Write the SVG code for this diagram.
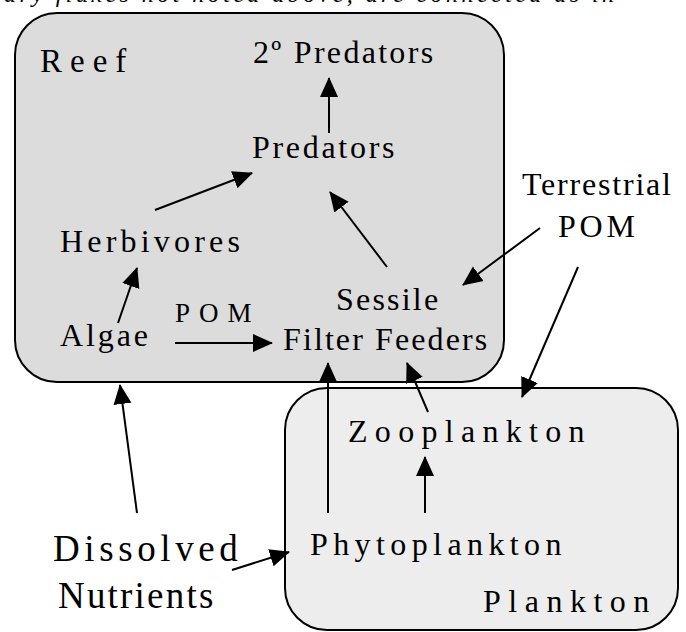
<svg xmlns="http://www.w3.org/2000/svg" width="686" height="632" viewBox="0 0 686 632">
<style>
.box{stroke:#000;stroke-width:2}
text{font-family:"Liberation Serif","Times New Roman",serif;fill:#000}
.c line{stroke:#000;stroke-width:2;marker-end:url(#ah)}
</style>
<defs>
<marker id="ah" markerUnits="userSpaceOnUse" markerWidth="20" markerHeight="20" viewBox="0 0 20 20" refX="19" refY="10" orient="auto"><path d="M0,1 L20,10 L0,19 z" fill="#000"/></marker>
</defs>
<rect width="686" height="632" fill="#fff"/>
<text x="4" y="2" font-style="italic" font-size="24" fill="#333" textLength="610" lengthAdjust="spacing">ary fluxes not noted above, are connected as in</text>
<g id="reef">
<rect class="box" x="15" y="13" width="489" height="369" rx="42" fill="#dcdcdc"/>
<text x="40" y="72" font-size="33" letter-spacing="8">Reef</text>
</g>
<g id="plankton">
<rect class="box" x="285" y="388" width="393" height="242" rx="42" fill="#ededed"/>
<text x="483" y="612" font-size="32" letter-spacing="7.5">Plankton</text>
</g>
<g id="predators2"><text x="253" y="63" font-size="32" letter-spacing="2.3">2º Predators</text></g>
<g id="predators"><text x="252" y="158" font-size="32" letter-spacing="2.7">Predators</text></g>
<g id="herbivores"><text x="60" y="252" font-size="32" letter-spacing="4.2">Herbivores</text></g>
<g id="algae"><text x="60" y="346" font-size="32" letter-spacing="2.9">Algae</text></g>
<g id="pom-label"><text x="175" y="322" font-size="27" letter-spacing="9">POM</text></g>
<g id="filter-feeders">
<text x="336" y="310" font-size="32" letter-spacing="2.2">Sessile</text>
<text x="283" y="350" font-size="32" letter-spacing="2.1">Filter Feeders</text>
</g>
<g id="terrestrial-pom">
<text x="522" y="195" font-size="32" letter-spacing="1.8">Terrestrial</text>
<text x="558" y="237" font-size="32" letter-spacing="3.8">POM</text>
</g>
<g id="zooplankton"><text x="348" y="442" font-size="32" letter-spacing="7.3">Zooplankton</text></g>
<g id="phytoplankton"><text x="310" y="555" font-size="32" letter-spacing="5.4">Phytoplankton</text></g>
<g id="dissolved-nutrients">
<text x="53" y="561" font-size="37" letter-spacing="4.6">Dissolved</text>
<text x="58" y="608" font-size="37" letter-spacing="2.2">Nutrients</text>
</g>
<g id="connectors" class="c">
<line x1="329" y1="133" x2="329" y2="78"/>
<line x1="155" y1="210" x2="252" y2="173"/>
<line x1="387" y1="267" x2="330" y2="192"/>
<line x1="118" y1="323" x2="137" y2="268"/>
<line x1="175" y1="343" x2="272" y2="343"/>
<line x1="540" y1="228" x2="463" y2="285"/>
<line x1="578" y1="267" x2="522" y2="397"/>
<line x1="428" y1="412" x2="407" y2="363"/>
<line x1="328" y1="513" x2="328" y2="363"/>
<line x1="425" y1="513" x2="425" y2="457"/>
<line x1="137" y1="513" x2="120" y2="385"/>
<line x1="232" y1="570" x2="289" y2="552"/>
</g>
</svg>
